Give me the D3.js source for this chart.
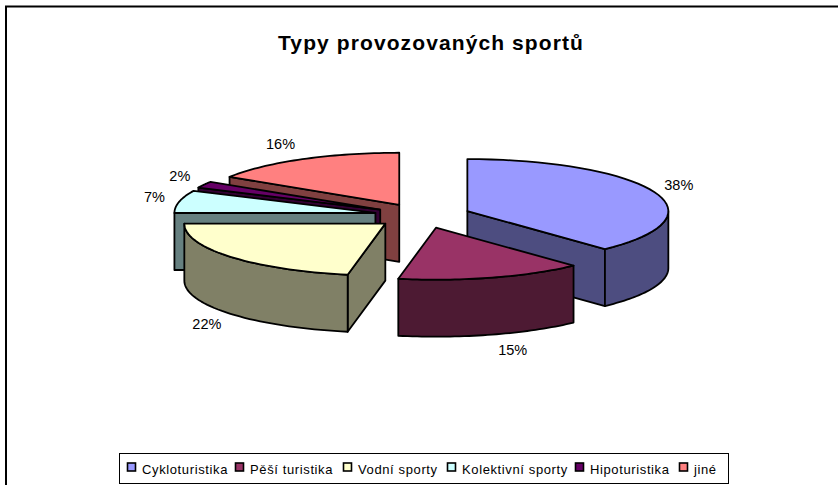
<!DOCTYPE html>
<html><head><meta charset="utf-8">
<script src="https://cdn.jsdelivr.net/npm/d3@7"></script>
<style>html,body{margin:0;padding:0;background:#fff}svg{display:block}text{font-family:"Liberation Sans",Arial,sans-serif;fill:#000}</style>
</head><body><svg id="c" width="838" height="485"></svg>
<script>
const categories=["Cykloturistika","Pěší turistika","Vodní sporty","Kolektivní sporty","Hipoturistika","jiné"];
const percents=[38,15,22,7,2,16];
const topColors=["#9999FF","#993366","#FFFFCC","#CCFFFF","#660066","#FF8080"];
const sideColors=["#4D4D80","#4D1A33","#808066","#668080","#330033","#804040"];
const titleText="Typy provozovaných sportů";
const legendTextX=[142,250,358,462,590,694];

const svg=d3.select("#c");
const explode=0.24, depth=57;
const x=d3.scaleLinear().domain([-1,1]).range([422.5-201,422.5+201]);
const y=d3.scaleLinear().domain([-1,1]).range([215.7-52,215.7+52]);
const slices=d3.pie().sort(null).value(d=>d)(percents).map((s,i)=>({...s,i,mid:(s.startAngle+s.endAngle)/2}));
slices.forEach(s=>{s.ox=explode*Math.sin(s.mid);s.oy=-explode*Math.cos(s.mid);});
const px=(s,a,r=1)=>x(s.ox+r*Math.sin(a));
const py=(s,a,r=1,d=0)=>y(s.oy-r*Math.cos(a))+d;
const line=d3.line();
const arcPts=(s,a0,a1,d)=>d3.range(0,41).map(k=>{const a=a0+(a1-a0)*k/40;return [px(s,a),py(s,a,1,d)];});
const face=(s,pts,fill)=>svg.append("path").attr("d",line(pts)+"Z").attr("fill",fill).attr("stroke","#000").attr("stroke-width",1.8).attr("stroke-linejoin","round");

svg.append("path").attr("d","M6,485V6.5H838").attr("fill","none").attr("stroke","#000").attr("stroke-width",2);

svg.append("text").attr("x",278).attr("y",50).attr("font-size",21).attr("font-weight","bold").attr("letter-spacing",1.1).text(titleText);

slices.slice().sort((a,b)=>a.oy-b.oy).forEach(s=>{
  const cut=a=>{const ax=x(s.ox),ay=y(s.oy);face(s,[[ax,ay],[px(s,a),py(s,a)],[px(s,a),py(s,a,1,depth)],[ax,ay+depth]],sideColors[s.i]);};
  if(Math.sin(s.startAngle)<-1e-6)cut(s.startAngle);
  if(Math.sin(s.endAngle)>1e-6)cut(s.endAngle);
  const w0=Math.max(s.startAngle,Math.PI/2),w1=Math.min(s.endAngle,Math.PI*1.5);
  if(w1>w0)face(s,[...arcPts(s,w0,w1,0),...arcPts(s,w1,w0,depth)],sideColors[s.i]);
  face(s,[[x(s.ox),y(s.oy)],...arcPts(s,s.startAngle,s.endAngle,0)],topColors[s.i]);
});

slices.forEach(s=>{
  const side=Math.sin(s.mid)>=0?1:-1, low=Math.cos(s.mid)<0;
  svg.append("text").attr("text-anchor","middle").attr("font-size",14.5)
    .attr("x",px(s,s.mid)+side*(19+6*Math.abs(Math.sin(s.mid))))
    .attr("y",py(s,s.mid,1,low?depth:0)-Math.cos(s.mid)*17+4.5)
    .text(percents[s.i]+"%");
});

svg.append("rect").attr("x",119.5).attr("y",453.5).attr("width",609).attr("height",30).attr("fill","#fff").attr("stroke","#000").attr("stroke-width",1);
categories.forEach((c,i)=>{
  svg.append("rect").attr("x",legendTextX[i]-14.5).attr("y",463).attr("width",8).attr("height",8).attr("fill",topColors[i]).attr("stroke","#000").attr("stroke-width",1.6);
  svg.append("text").attr("x",legendTextX[i]).attr("y",474).attr("font-size",13).attr("letter-spacing",0.62).text(c);
});
</script></body></html>
